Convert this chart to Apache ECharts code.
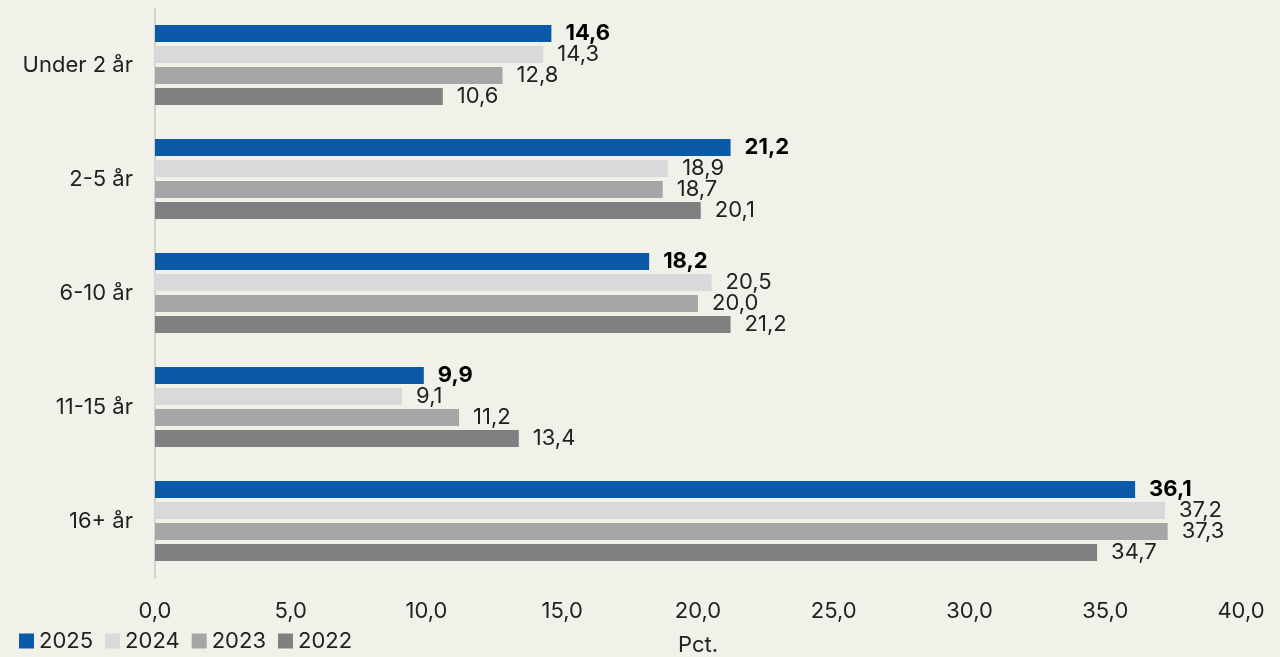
<!DOCTYPE html>
<html>
<head>
<meta charset="utf-8">
<script src="https://cdn.jsdelivr.net/npm/echarts@6/dist/echarts.min.js"></script>
<style>
  html, body { margin: 0; padding: 0; background: #f1f1ea; }
  #chart { width: 1280px; height: 657px; }
</style>
</head>
<body>
<div id="chart"></div>
<script>
// Age groups, top to bottom
const categories = ['Under 2 år', '2-5 år', '6-10 år', '11-15 år', '16+ år'];

// Share per age group (pct.)
const v2025 = [14.6, 21.2, 18.2, 9.9, 36.1];
const v2024 = [14.3, 18.9, 20.5, 9.1, 37.2];
const v2023 = [12.8, 18.7, 20.0, 11.2, 37.3];
const v2022 = [10.6, 20.1, 21.2, 13.4, 34.7];

const seriesNames = ['2025', '2024', '2023', '2022'];
const seriesColors = ['#0a5aa7', '#d9d9d9', '#a6a6a6', '#808080'];

const FONT = 'Inter, "Noto Sans", sans-serif';
const FS = 22;
const fmt = v => v.toFixed(1).replace('.', ',');

const chart = echarts.init(document.getElementById('chart'));

function makeSeries(name, data, color, bold) {
  return {
    name: name,
    type: 'bar',
    data: data,
    barWidth: 17,
    barGap: '24%',
    itemStyle: { color: color },
    label: {
      show: true,
      position: 'right',
      distance: 14,
      fontFamily: FONT,
      fontSize: FS,
      fontWeight: bold ? 'bold' : 'normal',
      color: bold ? '#000' : '#222',
      formatter: p => fmt(p.value)
    }
  };
}

chart.setOption({
  backgroundColor: '#f1f1ea',
  animation: false,
  grid: {
    left: 155, right: 39, top: 8, bottom: 79,
    containLabel: false,
    outerBoundsMode: 'none'
  },
  legend: {
    left: 14,
    bottom: 0,
    itemWidth: 15,
    itemHeight: 15,
    itemGap: 12,
    icon: 'rect',
    textStyle: { fontFamily: FONT, fontSize: FS, color: '#222' },
    data: seriesNames
  },
  xAxis: {
    type: 'value',
    min: 0,
    max: 40,
    interval: 5,
    name: 'Pct.',
    nameLocation: 'middle',
    nameGap: 56,
    nameTextStyle: { fontFamily: FONT, fontSize: FS, color: '#222' },
    axisLine: { show: false },
    axisTick: { show: false },
    splitLine: { show: false },
    axisLabel: {
      margin: 22,
      fontFamily: FONT,
      fontSize: FS,
      color: '#222',
      formatter: v => fmt(v)
    }
  },
  yAxis: {
    type: 'category',
    data: categories,
    inverse: true,
    axisLine: { show: true, lineStyle: { color: '#c8c8c8', width: 1.5 } },
    axisTick: { show: false },
    axisLabel: { margin: 22, fontFamily: FONT, fontSize: FS, color: '#222' }
  },
  series: [
    makeSeries(seriesNames[0], v2025, seriesColors[0], true),
    makeSeries(seriesNames[1], v2024, seriesColors[1], false),
    makeSeries(seriesNames[2], v2023, seriesColors[2], false),
    makeSeries(seriesNames[3], v2022, seriesColors[3], false)
  ]
});
</script>
</body>
</html>
